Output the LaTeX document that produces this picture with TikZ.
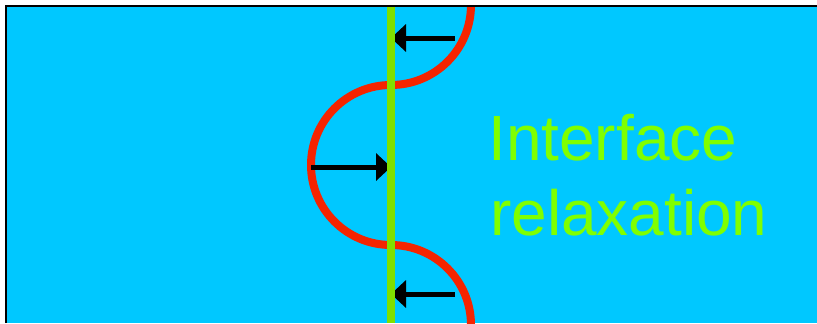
\documentclass[tikz,border=0pt]{standalone}
\usepackage{fontspec}
\setmainfont{Liberation Sans}
\usepackage{tikz}
\usetikzlibrary{arrows.meta, positioning}
\definecolor{seablue}{RGB}{0, 200, 255}
\definecolor{wallgreen}{RGB}{128, 224, 0}
\definecolor{textgreen}{RGB}{128, 255, 0}
\definecolor{wavered}{RGB}{245, 36, 0}

\begin{document}
\begin{tikzpicture}[
        x=0.03cm, y=0.03cm,
        wave/.style={draw=wavered, line width=0.24cm},
        wall/.style={draw=wallgreen, line width=0.24cm},
        push/.style={-{Triangle[length=0.45cm, width=0.81cm]}, line width=0.15cm},
        lbl/.style={text=textgreen, inner sep=0pt, anchor=base west,
                    font=\fontsize{54.6}{64}\selectfont}
      ]
        \useasboundingbox (0,0) rectangle (817,323);
        \fill[seablue] (6,0) rectangle (817,317);
        \draw[line width=0.06cm] (6,0) -- (6,317) -- (817,317);
        \begin{scope}
          \clip (6,0) rectangle (817,316);
          \draw[wave] (471,318) arc (0:-90:80) arc (90:270:80) arc (90:0:80);
        \end{scope}
        % arrows towards the flat interface
        \coordinate (top0) at (455,285);
        \coordinate (top1) at (391,285);
        \coordinate (mid0) at (311,156);
        \coordinate (mid1) at (391,156);
        \coordinate (bot0) at (455,29);
        \coordinate (bot1) at (391,29);
        \draw[push] (top0) -- (top1);
        \draw[push] (mid0) -- (mid1);
        \draw[push] (bot0) -- (bot1);
        \coordinate (wallbot) at (391,0);
        \coordinate (walltop) at (391,316);
        \draw[wall] (wallbot) -- (walltop);
        \node[lbl] (interface) at (488,163) {Interface};
        \node[lbl] (relax) at (490,88) {relaxation};
      \end{tikzpicture}
\end{document}
